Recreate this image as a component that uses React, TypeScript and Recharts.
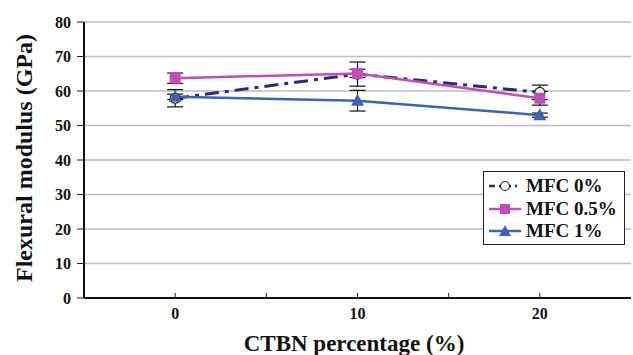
import { LineChart, Line, XAxis, YAxis, CartesianGrid, ErrorBar } from "recharts";

const categories = [0, 10, 20];
const mfc0 = [57.9, 64.9, 59.6];
const mfc0Err = [2.5, 3.5, 2.1];
const mfc05 = [63.7, 65.1, 57.9];
const mfc05Err = [1.5, 1.2, 2.0];
const mfc1 = [58.3, 57.2, 53.0];
const mfc1Err = [0.8, 3.0, 0.6];
const xTicks = [0, 5, 10, 15, 20];
const yTicks = [0, 10, 20, 30, 40, 50, 60, 70, 80];

const data = categories.map((c, i) => ({
  x: c,
  mfc0: mfc0[i],
  e0: mfc0Err[i],
  mfc05: mfc05[i],
  e05: mfc05Err[i],
  mfc1: mfc1[i],
  e1: mfc1Err[i],
}));

const FONT = "Liberation Serif, Times New Roman, Tinos, Noto Serif, DejaVu Serif, serif";
const NAVY = "#2b2878";
const MAGENTA = "#c04db8";
const BLUE = "#3d62b5";

const circleDot = (p: any) => (
  <circle key={`c${p.index}`} cx={p.cx} cy={p.cy} r={5} fill="#fff" stroke="#222" strokeWidth={1.2} />
);
const squareDot = (p: any) => (
  <rect key={`s${p.index}`} x={p.cx - 5.5} y={p.cy - 5.5} width={11} height={11} fill={MAGENTA} />
);
const triDot = (p: any) => (
  <path key={`t${p.index}`} d={`M${p.cx},${p.cy - 7}L${p.cx + 6.5},${p.cy + 5}L${p.cx - 6.5},${p.cy + 5}Z`} fill={BLUE} />
);

const XTick = (p: any) => {
  const v = p.payload.value;
  return (
    <g>
      <line x1={p.x} x2={p.x} y1={p.y} y2={p.y - 5} stroke="#222" strokeWidth={1} />
      {categories.includes(v) && (
        <text x={p.x} y={p.y + 21} textAnchor="middle" style={{ fontFamily: FONT }} fontWeight="bold" fontSize={16} fill="#111">
          {v}
        </text>
      )}
    </g>
  );
};

const legendItems = [
  { name: "MFC 0%", color: NAVY, dash: "6 4 2 4", marker: "circle" },
  { name: "MFC 0.5%", color: MAGENTA, dash: undefined, marker: "square" },
  { name: "MFC 1%", color: BLUE, dash: undefined, marker: "triangle" },
];

function LegendBox() {
  return (
    <div
      style={{
        position: "absolute",
        left: 483,
        top: 171,
        width: 142,
        height: 74,
        border: "1.5px solid #222",
        background: "#fff",
        fontFamily: FONT,
        fontWeight: "bold",
        fontSize: 19,
        color: "#111",
        boxSizing: "border-box",
        paddingTop: 3,
      }}
    >
      {legendItems.map((it) => (
        <div key={it.name} style={{ display: "flex", alignItems: "center", height: 22.5 }}>
          <svg width={42} height={20} style={{ flex: "none" }}>
            <line x1={5} x2={37} y1={10} y2={10} stroke={it.color} strokeWidth={2.5} strokeDasharray={it.dash} />
            {it.marker === "circle" && <circle cx={21} cy={10} r={4.5} fill="#fff" stroke="#222" strokeWidth={1.2} />}
            {it.marker === "square" && <rect x={16} y={5} width={10} height={10} fill={MAGENTA} />}
            {it.marker === "triangle" && <path d="M21,4L27,15L15,15Z" fill={BLUE} />}
          </svg>
          <span style={{ lineHeight: "20px" }}>{it.name}</span>
        </div>
      ))}
    </div>
  );
}

export default function App() {
  return (
    <div style={{ position: "absolute", left: 0, top: 0, width: 633, height: 355, background: "#fff", fontFamily: FONT }}>
      <LineChart width={633} height={355} data={data} margin={{ top: 22, right: 2, bottom: 0, left: 0 }} style={{ fontFamily: FONT }}>
        <CartesianGrid vertical={false} stroke="#bdbdbd" strokeWidth={1.5} />
        <XAxis
          dataKey="x"
          type="number"
          domain={[-5, 25]}
          ticks={xTicks}
          tick={<XTick />}
          tickLine={false}
          tickSize={0}
          tickMargin={0}
          height={57}
          axisLine={{ stroke: "#111", strokeWidth: 2 }}
          label={{
            content: () => (
              <text x={354} y={351} textAnchor="middle" style={{ fontFamily: FONT }} fontWeight="bold" fontSize={23} fill="#111">
                CTBN percentage (%)
              </text>
            ),
          }}
        />
        <XAxis xAxisId="top" orientation="top" type="number" domain={[-5, 25]} tick={false} tickLine={false} height={0} axisLine={{ stroke: "#111", strokeWidth: 1.5 }} />
        <YAxis
          domain={[0, 80]}
          ticks={yTicks}
          width={84}
          tickSize={7}
          tickMargin={6}
          tick={{ style: { fontFamily: FONT }, fontWeight: "bold", fontSize: 16, fill: "#111" }}
          tickLine={{ stroke: "#222" }}
          axisLine={{ stroke: "#111", strokeWidth: 2 }}
          label={{
            content: () => (
              <text
                x={0}
                y={0}
                transform="translate(32,158) rotate(-90)"
                textAnchor="middle"
                style={{ fontFamily: FONT }}
                fontWeight="bold"
                fontSize={24}
                fill="#111"
              >
                Flexural modulus (GPa)
              </text>
            ),
          }}
        />
        <YAxis yAxisId="right" orientation="right" domain={[0, 80]} tick={false} tickLine={false} width={0} axisLine={{ stroke: "#555", strokeWidth: 3 }} />
        <Line
          dataKey="mfc0"
          stroke={NAVY}
          strokeWidth={3}
          strokeDasharray="14 6 4 6"
          dot={circleDot}
          activeDot={false}
          isAnimationActive={false}
        >
          <ErrorBar dataKey="e0" direction="y" width={8} stroke="#111" strokeWidth={1.2} />
        </Line>
        <Line dataKey="mfc05" stroke={MAGENTA} strokeWidth={2.5} dot={squareDot} activeDot={false} isAnimationActive={false}>
          <ErrorBar dataKey="e05" direction="y" width={8} stroke="#111" strokeWidth={1.2} />
        </Line>
        <Line dataKey="mfc1" stroke={BLUE} strokeWidth={2.5} dot={triDot} activeDot={false} isAnimationActive={false}>
          <ErrorBar dataKey="e1" direction="y" width={8} stroke="#111" strokeWidth={1.2} />
        </Line>
      </LineChart>
      <LegendBox />
    </div>
  );
}
